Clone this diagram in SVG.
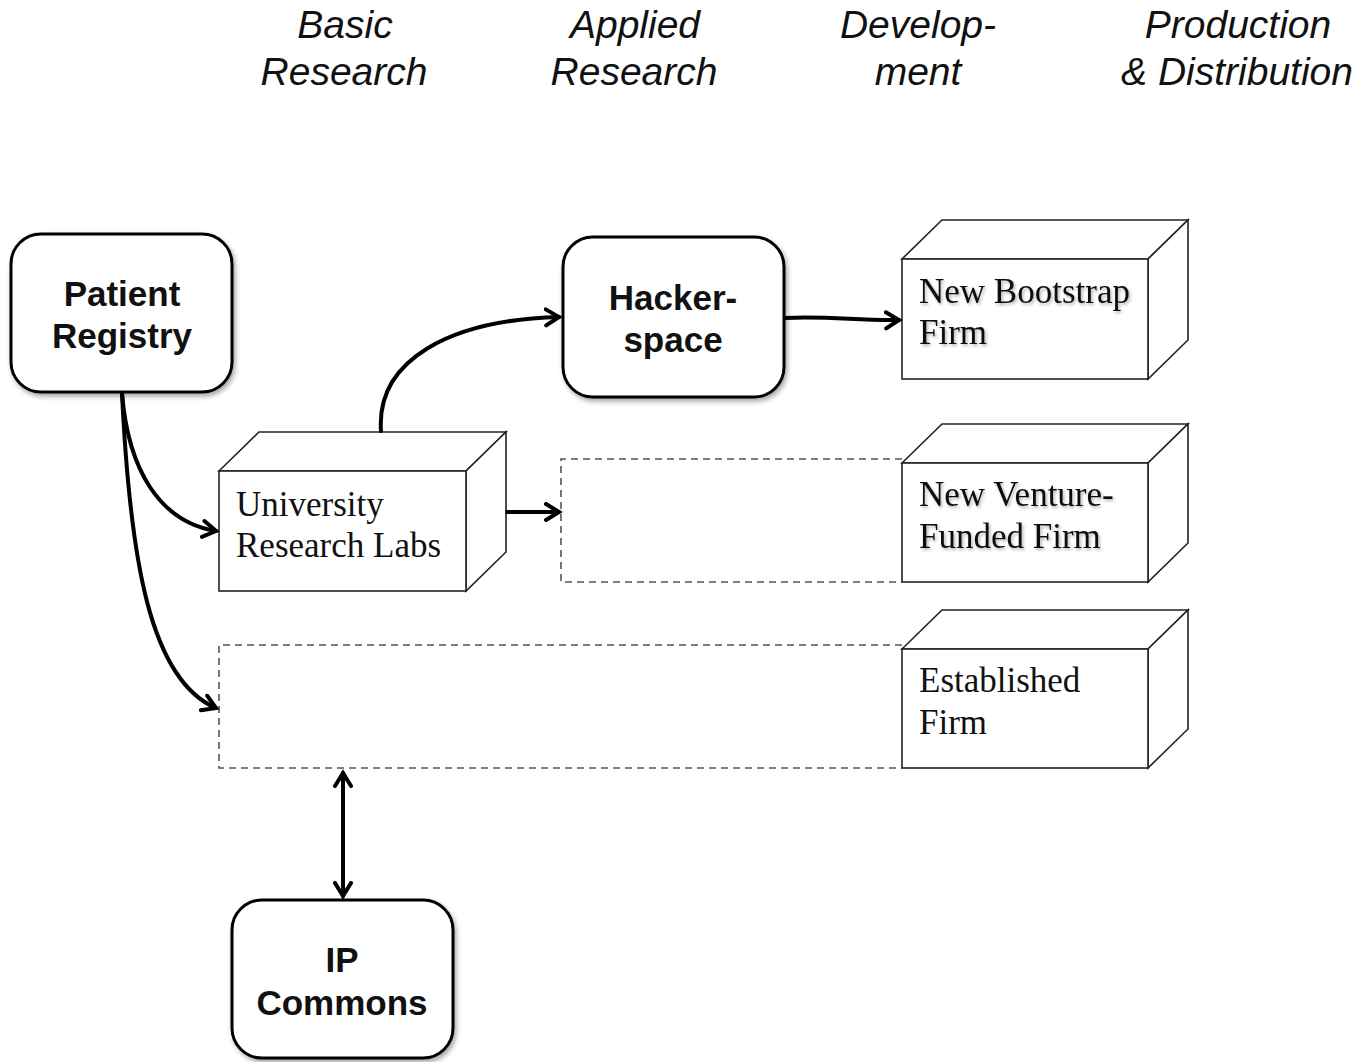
<svg xmlns="http://www.w3.org/2000/svg" width="1363" height="1062" viewBox="0 0 1363 1062">
  <defs>
    <filter id="shadow" x="-10%" y="-10%" width="125%" height="125%">
      <feDropShadow dx="2" dy="3" stdDeviation="2.5" flood-color="#000" flood-opacity="0.35"/>
    </filter>
    <filter id="textShadow" x="-5%" y="-20%" width="115%" height="150%">
      <feDropShadow dx="1.5" dy="2" stdDeviation="1.5" flood-color="#000" flood-opacity="0.3"/>
    </filter>
    <marker id="arrow" markerUnits="userSpaceOnUse" markerWidth="22" markerHeight="24" refX="15" refY="10" orient="auto-start-reverse">
      <path d="M2,2 L15,10 L2,18" fill="none" stroke="#000" stroke-width="4" stroke-linecap="round" stroke-linejoin="miter"/>
    </marker>
  </defs>
  <style>
    .header { font-family: "Liberation Sans", Arial, sans-serif; font-style: italic; font-size: 39px; fill: #111; text-anchor: middle; }
    .round { fill: #fff; stroke: #000; stroke-width: 3; }
    .roundLabel { font-family: "Liberation Sans", Arial, sans-serif; font-weight: bold; font-size: 35px; fill: #111; text-anchor: middle; }
    .box { fill: #fff; stroke: #222; stroke-width: 1.6; stroke-linejoin: miter; }
    .boxLabel { font-family: "Liberation Serif", "Times New Roman", serif; font-size: 35px; fill: #111; }
    .dashed { fill: none; stroke: #555; stroke-width: 1.6; stroke-dasharray: 7 5; }
    .conn { fill: none; stroke: #000; stroke-width: 4; stroke-linecap: round; marker-end: url(#arrow); }
  </style>
  <rect width="1363" height="1062" fill="#fff"/>

  <!-- stage headers -->
  <g id="headers">
    <text class="header" x="345" y="38">Basic</text>
    <text class="header" x="344" y="85">Research</text>
    <text class="header" x="635" y="38">Applied</text>
    <text class="header" x="634" y="85">Research</text>
    <text class="header" x="918" y="38">Develop-</text>
    <text class="header" x="918" y="85">ment</text>
    <text class="header" x="1238" y="38">Production</text>
    <text class="header" x="1237" y="85">&amp; Distribution</text>
  </g>

  <!-- dashed placeholder regions -->
  <g id="dashed-regions">
    <path class="dashed" d="M902,459 H561 V582 H902"/>
    <path class="dashed" d="M902,645 H219 V768 H902"/>
  </g>

  <!-- rounded nodes -->
  <g id="patient-registry">
    <rect class="round" x="11" y="234" width="221" height="158" rx="30" filter="url(#shadow)"/>
    <text class="roundLabel" x="122" y="306">Patient</text>
    <text class="roundLabel" x="122" y="348">Registry</text>
  </g>
  <g id="hackerspace">
    <rect class="round" x="563" y="237" width="221" height="160" rx="30" filter="url(#shadow)"/>
    <text class="roundLabel" x="673" y="310">Hacker-</text>
    <text class="roundLabel" x="673" y="352">space</text>
  </g>
  <g id="ip-commons">
    <rect class="round" x="232" y="900" width="221" height="158" rx="30" filter="url(#shadow)"/>
    <text class="roundLabel" x="342" y="972">IP</text>
    <text class="roundLabel" x="342" y="1015">Commons</text>
  </g>

  <!-- 3D box nodes -->
  <g id="university-labs">
    <path class="box" d="M219,471 L259,432 H506 L466,471 Z"/>
    <path class="box" d="M466,471 L506,432 V552 L466,591 Z"/>
    <rect class="box" x="219" y="471" width="247" height="120"/>
    <text class="boxLabel" x="236" y="516">University</text>
    <text class="boxLabel" x="236" y="557">Research Labs</text>
  </g>
  <g id="bootstrap-firm">
    <path class="box" d="M902,259 L942,220 H1188 L1148,259 Z"/>
    <path class="box" d="M1148,259 L1188,220 V340 L1148,379 Z"/>
    <rect class="box" x="902" y="259" width="246" height="120"/>
    <g filter="url(#textShadow)">
      <text class="boxLabel" x="919" y="303">New Bootstrap</text>
      <text class="boxLabel" x="919" y="344">Firm</text>
    </g>
  </g>
  <g id="venture-firm">
    <path class="box" d="M902,463 L942,424 H1188 L1148,463 Z"/>
    <path class="box" d="M1148,463 L1188,424 V543 L1148,582 Z"/>
    <rect class="box" x="902" y="463" width="246" height="119"/>
    <g filter="url(#textShadow)">
      <text class="boxLabel" x="919" y="506">New Venture-</text>
      <text class="boxLabel" x="919" y="548">Funded Firm</text>
    </g>
  </g>
  <g id="established-firm">
    <path class="box" d="M902,649 L942,610 H1188 L1148,649 Z"/>
    <path class="box" d="M1148,649 L1188,610 V729 L1148,768 Z"/>
    <rect class="box" x="902" y="649" width="246" height="119"/>
    <text class="boxLabel" x="919" y="692">Established</text>
    <text class="boxLabel" x="919" y="734">Firm</text>
  </g>

  <!-- connectors -->
  <g id="connectors">
    <path class="conn" d="M122,393 C128,470 160,522 216,531"/>
    <path class="conn" d="M122,393 C130,560 150,680 216,708"/>
    <path class="conn" d="M381,431 C376,360 450,320 559,317"/>
    <path class="conn" d="M785,318 C830,316 860,321 899,320"/>
    <path class="conn" d="M507,512 H559"/>
    <path class="conn" d="M343,773 V896" marker-start="url(#arrow)"/>
  </g>
</svg>
